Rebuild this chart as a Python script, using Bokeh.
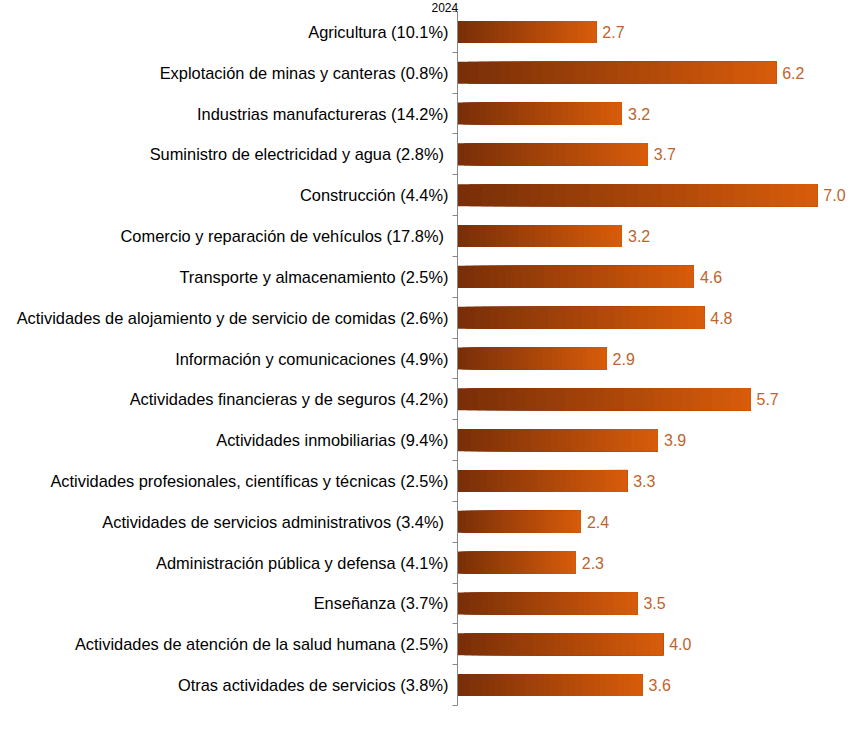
from bokeh.plotting import figure
from bokeh.models import Range1d, FixedTicker, ColumnDataSource, LabelSet
from bokeh.core.properties import value
from bokeh.embed import file_html
from bokeh.resources import INLINE

categories = [
    "Agricultura (10.1%)",
    "Explotación de minas y canteras (0.8%)",
    "Industrias manufactureras (14.2%)",
    "Suministro de electricidad y agua  (2.8%)",
    "Construcción (4.4%)",
    "Comercio y reparación de vehículos  (17.8%)",
    "Transporte y almacenamiento (2.5%)",
    "Actividades de alojamiento y de servicio de comidas (2.6%)",
    "Información y comunicaciones (4.9%)",
    "Actividades financieras y de seguros (4.2%)",
    "Actividades inmobiliarias (9.4%)",
    "Actividades profesionales, científicas y técnicas (2.5%)",
    "Actividades de servicios administrativos  (3.4%)",
    "Administración pública y defensa (4.1%)",
    "Enseñanza (3.7%)",
    "Actividades de atención de la salud humana (2.5%)",
    "Otras actividades de servicios (3.8%)",
]
values = [2.7, 6.2, 3.2, 3.7, 7.0, 3.2, 4.6, 4.8, 2.9, 5.7, 3.9, 3.3, 2.4, 2.3, 3.5, 4.0, 3.6]
title_text = "2024"

n = len(categories)
ypos = list(range(n))

p = figure(width=859, height=731, output_backend="svg", toolbar_location=None,
           x_range=Range1d(0, 7.82), y_range=Range1d(n - 0.5, -0.5),
           min_border_left=457, min_border_right=0, min_border_top=0, min_border_bottom=26)
p.outline_line_color = None
p.background_fill_color = "white"
p.xgrid.visible = False
p.ygrid.visible = False
p.xaxis.visible = False

p.title.text = title_text
p.title.text_font = "Liberation Sans"
p.title.text_font_size = "12px"
p.title.text_font_style = "normal"
p.title.text_color = "#000000"
p.title.align = "left"
p.title.offset = -26
p.title.standoff = 0

# gradient bars: overlapping slices, each from a fraction of the value to the full value
def lerp(c1, c2, t):
    return "#%02x%02x%02x" % tuple(int(round(a + (b - a) * t)) for a, b in zip(c1, c2))

dark = (0x78, 0x2e, 0x08)
light = (0xd8, 0x5c, 0x0a)
N = 30
ls, rs, ys, cs = [], [], [], []
for k in range(N):
    for i, v in enumerate(values):
        ls.append(v * k / N)
        rs.append(v)
        ys.append(i)
        cs.append(lerp(dark, light, (k + 0.5) / N))
p.hbar(y=ys, left=ls, right=rs, height=0.54, fill_color=cs, line_color=None)

# value labels
src = ColumnDataSource(dict(x=values, y=ypos, t=["%.1f" % v for v in values]))
p.add_layout(LabelSet(x="x", y="y", text="t", source=src, x_offset=6,
                      text_baseline="middle", text_align="left",
                      text_font=value("Liberation Sans"), text_font_size="16px",
                      text_color="#c0642c"))

yax = p.yaxis[0]
yax.ticker = FixedTicker(ticks=ypos, minor_ticks=[i - 0.5 for i in range(n + 1)])
yax.major_label_overrides = {i: c for i, c in enumerate(categories)}
yax.major_tick_out = 0
yax.major_tick_in = 0
yax.minor_tick_out = 5
yax.minor_tick_in = 0
yax.minor_tick_line_color = "#888888"
yax.axis_line_color = "#888888"
yax.major_label_standoff = 4
yax.major_label_text_font = "Liberation Sans"
yax.major_label_text_font_size = "16.4px"
yax.major_label_text_color = "#000000"

open("out.html", "w").write(file_html(p, INLINE))
